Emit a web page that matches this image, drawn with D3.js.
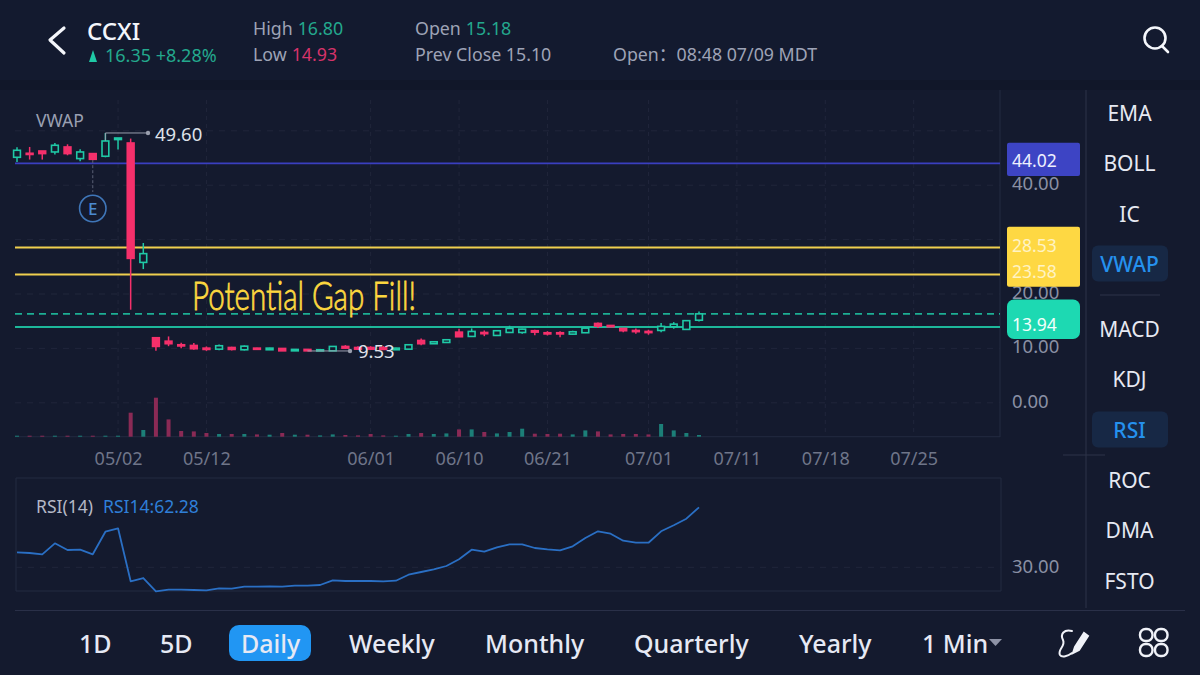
<!DOCTYPE html>
<html lang="en">
<head>
<meta charset="UTF-8">
<title>CCXI</title>
<script src="https://d3js.org/d3.v7.min.js"></script>
<style>
  html, body { margin: 0; padding: 0; background: #141a2e; overflow: hidden; }
  svg { display: block; font-family: "Noto Sans", "Open Sans", sans-serif; }
</style>
</head>
<body>
<svg id="chart" width="1200" height="675"></svg>
<script>
// daily candles (index = trading day slot)
var opens  = [45.13,45.87,46.29,46.11,47.03,44.89,45.81,45.32,48.39,47.76,25.81,11.96,11.33,10.67,10.54,10.05,9.86,10.17,9.75,10.05,9.75,9.99,9.55,9.81,9.55,9.55,10.36,10.17,10.17,10.17,9.75,9.86,11.46,10.86,11.09,12.99,12.20,12.93,12.38,12.93,12.93,13.25,12.88,12.88,12.62,12.88,14.59,14.22,13.67,13.30,13.12,13.30,13.98,13.49,15.18];
var highs  = [46.97,47.03,46.29,47.76,47.52,46.60,45.81,49.60,48.68,48.57,29.37,11.96,12.20,11.04,10.97,10.36,10.73,10.30,10.54,10.12,10.12,10.05,9.86,9.86,9.81,10.41,10.60,10.40,10.40,10.40,10.10,10.73,11.83,11.30,11.65,13.62,13.67,13.30,13.30,14.17,13.60,13.43,13.17,13.17,13.25,13.80,14.77,14.30,13.70,13.67,13.43,14.65,14.83,15.15,16.80];
var lows   = [44.27,44.71,44.71,45.63,45.50,44.40,44.60,45.13,46.55,17.11,24.58,9.55,10.41,10.05,9.75,9.55,9.68,9.62,9.62,9.81,9.70,9.54,9.54,9.53,9.54,9.54,9.94,9.75,9.75,9.70,9.70,9.81,10.60,10.80,11.00,12.10,12.15,12.25,12.33,12.88,12.70,12.44,12.38,12.07,12.55,12.82,13.73,13.90,12.99,12.70,12.51,12.99,13.62,13.45,14.93];
var closes = [46.42,45.70,45.81,47.34,45.81,46.11,44.76,48.13,48.68,26.55,27.42,10.36,10.86,10.49,9.94,9.81,10.49,9.81,10.41,9.86,10.05,9.55,9.81,9.55,9.75,10.36,10.05,9.86,9.86,9.81,10.05,10.67,10.86,11.22,11.59,12.14,13.12,12.70,13.25,13.67,13.54,12.99,12.70,12.70,13.06,13.73,14.09,13.98,13.25,13.12,12.93,14.04,14.46,15.10,16.35];
var volumes = [1,1,1,1,1,1,1,1,1,24,6.7,39,17.3,5.7,5.3,3.7,2.7,2.7,2.7,2.3,2,3.7,2,2,1.3,2.3,1.7,1.3,2.7,1.3,1,2.7,3.7,2.7,3.3,7.3,7.3,4.7,3.3,4.7,8,3,2.7,3,2.3,6.3,5.3,2.3,2.7,2.7,2.3,12.7,6.3,3.7,1.7];
var rsi = [38.07,37.69,36.99,42.91,39.31,39.47,36.99,49.15,50.98,22.47,24.24,17.09,17.95,17.95,17.79,17.63,18.70,18.49,19.56,19.56,19.78,19.56,20.10,20.10,20.48,23.01,22.63,22.63,22.63,22.47,22.79,26.02,27.47,28.92,30.70,34.30,39.47,38.39,40.76,42.37,42.37,40.38,39.68,39.15,41.30,45.76,49.37,48.08,44.31,43.23,43.23,49.37,52.60,56.15,62.28];

var dateSlots = [8,15,28,35,42,50,57,64,71];
var dateLabels = ["05/02","05/12","06/01","06/10","06/21","07/01","07/11","07/18","07/25"];
var priceGrid = [50,40,30,20,10,0];
var priceTicks = [40,20,10,0];
var rsiTicks = [30];
var sideNames = ["EMA","BOLL","IC","VWAP","MACD","KDJ","RSI","ROC","DMA","FSTO"];
var sideY = [113,163,214,264,329,379,430,480,530,581];
var sideActive = ["VWAP","RSI"];
var tabNames = ["1D","5D","Daily","Weekly","Monthly","Quarterly","Yearly","1 Min"];
var tabX = [79,160,241,349,485,634,799,922];

var GREEN = "#1fc9a6", RED = "#f5306b", YELLOW = "#efcf4e", LINE = "#232a40", GRID = "#20263b", GREY = "#8a90a4";

var svg = d3.select("#chart");

var x = d3.scaleLinear().domain([0, 54]).range([17, 699]);
var y = d3.scaleLinear().domain([0, 40]).range([402.8, 185.2]);
var yVol = d3.scaleLinear().domain([0, 40]).range([436.7, 396.7]);
var yRsi = d3.scaleLinear().domain([30, 62.28]).range([567.3, 507.3]);
var days = d3.range(closes.length);

// header band
svg.append("rect").attr("width", 1200).attr("height", 80).attr("fill", "#131a2f");
svg.append("rect").attr("y", 80).attr("width", 1200).attr("height", 10).attr("fill", "#111729");

// frame lines
function hline(x1, x2, yy, col) {
  svg.append("line").attr("x1", x1).attr("x2", x2).attr("y1", yy).attr("y2", yy)
    .attr("stroke", col || LINE).attr("stroke-width", 1);
}
function vline(xx, y1, y2, col) {
  svg.append("line").attr("x1", xx).attr("x2", xx).attr("y1", y1).attr("y2", y2)
    .attr("stroke", col || LINE).attr("stroke-width", 1);
}
vline(1000, 90, 437);
hline(15, 1000, 436.7);
hline(16, 1001, 478);
hline(16, 1001, 591);
vline(16, 478, 591);
vline(1001, 478, 591);
hline(15, 1185, 610.5, "#2a3048");
vline(1086, 90, 608, "#2c3249");
hline(1063, 1105, 455, "#2c3249");
hline(1100, 1160, 295, "#2c3249");

// grids
svg.append("g").selectAll("line").data(priceGrid).enter().append("line")
  .attr("x1", 15).attr("x2", 1000)
  .attr("y1", function(d){ return y(d); }).attr("y2", function(d){ return y(d); })
  .attr("stroke", GRID).attr("stroke-dasharray", "6 6");
svg.append("g").selectAll("line").data(dateSlots).enter().append("line")
  .attr("x1", function(d){ return x(d); }).attr("x2", function(d){ return x(d); })
  .attr("y1", 100).attr("y2", 436)
  .attr("stroke", GRID).attr("stroke-dasharray", "4 4");
svg.append("line").attr("x1", 16).attr("x2", 1001).attr("y1", yRsi(30)).attr("y2", yRsi(30))
  .attr("stroke", GRID).attr("stroke-dasharray", "6 6");

// volume
svg.append("g").selectAll("rect").data(days).enter().append("rect")
  .attr("x", function(i){ return x(i) - 2; })
  .attr("width", 4)
  .attr("y", function(i){ return yVol(volumes[i]); })
  .attr("height", function(i){ return yVol(0) - yVol(volumes[i]); })
  .attr("fill", function(i){ return closes[i] >= opens[i] ? "#1c7f78" : "#8a2a55"; });

// level lines
svg.append("line").attr("x1", 15).attr("x2", 1000).attr("y1", y(44.02)).attr("y2", y(44.02)).attr("stroke", "#3a3fc0").attr("stroke-width", 1.8);
[28.53, 23.58].forEach(function(v){
  svg.append("line").attr("x1", 15).attr("x2", 1000).attr("y1", y(v)).attr("y2", y(v)).attr("stroke", YELLOW).attr("stroke-width", 2);
});
svg.append("line").attr("x1", 15).attr("x2", 1000).attr("y1", y(16.35)).attr("y2", y(16.35)).attr("stroke", GREEN).attr("stroke-width", 1.6).attr("stroke-dasharray", "7 5").attr("opacity", 0.85);
svg.append("line").attr("x1", 15).attr("x2", 1000).attr("y1", y(13.94)).attr("y2", y(13.94)).attr("stroke", GREEN).attr("stroke-width", 2).attr("opacity", 0.9);

// candles
var candle = svg.append("g").selectAll("g").data(days).enter().append("g");
candle.append("line")
  .attr("x1", function(i){ return x(i); }).attr("x2", function(i){ return x(i); })
  .attr("y1", function(i){ return y(highs[i]); }).attr("y2", function(i){ return y(lows[i]); })
  .attr("stroke", function(i){ return closes[i] >= opens[i] ? GREEN : RED; })
  .attr("stroke-width", 1.5);
candle.append("rect")
  .attr("x", function(i){ return x(i) - 3.4; })
  .attr("width", 6.8)
  .attr("y", function(i){ return y(Math.max(opens[i], closes[i])); })
  .attr("height", function(i){ return Math.max(1.2, Math.abs(y(opens[i]) - y(closes[i]))); })
  .attr("fill", function(i){ return closes[i] >= opens[i] ? "#141a2e" : RED; })
  .attr("stroke", function(i){ return closes[i] >= opens[i] ? GREEN : RED; })
  .attr("stroke-width", 1.6);

// earnings marker
svg.append("line").attr("x1", x(6)).attr("x2", x(6)).attr("y1", y(44.6)).attr("y2", 192)
  .attr("stroke", "#5a6076").attr("stroke-dasharray", "3 2");
svg.append("circle").attr("cx", x(6)).attr("cy", 208.5).attr("r", 13.2)
  .attr("fill", "none").attr("stroke", "#3f76b8").attr("stroke-width", 1.6);
svg.append("text").attr("x", x(6)).attr("y", 214.5).attr("text-anchor", "middle")
  .attr("font-size", 17).attr("font-weight", 500).attr("fill", "#4a8ad0").text("E");

// high and low leaders
var LEAD = "#9a9fae";
svg.append("path").attr("fill", "none").attr("stroke", LEAD).attr("stroke-width", 1)
  .attr("d", d3.line()([[x(7), y(48.2)], [x(7), y(49.6)], [148, y(49.6)]]));
svg.append("circle").attr("cx", 148).attr("cy", y(49.6)).attr("r", 2.2).attr("fill", LEAD);
svg.append("text").attr("x", 155).attr("y", 141).attr("font-size", 18.5).attr("fill", "#dfe2ea").text("49.60");
svg.append("path").attr("fill", "none").attr("stroke", LEAD).attr("stroke-width", 1)
  .attr("d", d3.line()([[x(23), y(9.53)], [350, y(9.53)]]));
svg.append("circle").attr("cx", 350).attr("cy", y(9.53)).attr("r", 2.2).attr("fill", LEAD);
svg.append("text").attr("x", 358).attr("y", 358).attr("font-size", 18.5).attr("fill", "#dfe2ea").text("9.53");

// note written on the chart
svg.append("text").attr("x", 192).attr("y", 310)
  .attr("font-family", "Lato").attr("font-size", 40).attr("font-weight", 300)
  .attr("textLength", 224).attr("lengthAdjust", "spacingAndGlyphs")
  .attr("fill", "#fdd83f").attr("stroke", "#fdd83f").attr("stroke-width", 0.8)
  .text("Potential Gap Fill!");

// rsi line
svg.append("path").attr("fill", "none").attr("stroke", "#2a6fc4").attr("stroke-width", 1.8)
  .attr("stroke-linejoin", "round")
  .attr("d", d3.line().x(function(i){ return x(i); }).y(function(i){ return yRsi(rsi[i]); })(days));

// axes
var priceAxis = svg.append("g").attr("transform", "translate(1000,0)")
  .call(d3.axisRight(y).tickValues(priceTicks).tickFormat(d3.format(".2f")).tickSize(0).tickPadding(12));
var rsiAxis = svg.append("g").attr("transform", "translate(1000,0)")
  .call(d3.axisRight(yRsi).tickValues(rsiTicks).tickFormat(d3.format(".2f")).tickSize(0).tickPadding(12));
var dateAxis = svg.append("g").attr("transform", "translate(0,446)")
  .call(d3.axisBottom(x).tickValues(dateSlots).tickFormat(function(d){ return dateLabels[dateSlots.indexOf(d)]; }).tickSize(0).tickPadding(6));
[priceAxis, rsiAxis, dateAxis].forEach(function(a){
  a.select(".domain").remove();
  a.selectAll("text").attr("font-family", "Noto Sans").attr("font-size", 18.5).attr("fill", GREY);
});
priceAxis.selectAll("text").attr("dy", "0.24em");
rsiAxis.selectAll("text").attr("dy", "0.26em");
dateAxis.selectAll("text").attr("font-size", 18).attr("fill", "#6f7589");

// price tags on the right
svg.append("rect").attr("x", 1007).attr("y", 142.7).attr("width", 73).attr("height", 33.3).attr("rx", 2).attr("fill", "#3d44c4");
svg.append("rect").attr("x", 1007).attr("y", 226.7).attr("width", 73).attr("height", 60).attr("rx", 2).attr("fill", "#fed843");
svg.append("rect").attr("x", 1007).attr("y", 299.5).attr("width", 73).attr("height", 39.5).attr("rx", 7).attr("fill", "#1dd9b2");
var tags = [[44.02, "#eef0ff", 161], [28.53, "#fff3c4", 245.5], [23.58, "#fff3c4", 272], [13.94, "#f2fffb", 325]];
svg.selectAll("text.tag").data(tags).enter().append("text").attr("class", "tag")
  .attr("x", 1012).attr("y", function(d){ return d[2]; }).attr("dy", "0.35em")
  .attr("font-size", 17.5).attr("fill", function(d){ return d[1]; })
  .text(function(d){ return d3.format(".2f")(d[0]); });

// panel captions
svg.append("text").attr("x", 36).attr("y", 127).attr("font-size", 17.5).attr("fill", "#9aa0b2").text("VWAP");
svg.append("text").attr("x", 36).attr("y", 513).attr("font-size", 17.5).attr("fill", "#b4b8c6").text("RSI(14)");
svg.append("text").attr("x", 103).attr("y", 513).attr("font-size", 17.5).attr("fill", "#2f7fd8").text("RSI14:62.28");

// indicator sidebar
sideActive.forEach(function(n){
  var cy = sideY[sideNames.indexOf(n)];
  svg.append("rect").attr("x", 1092).attr("y", cy - 18.5).attr("width", 76).attr("height", 36).attr("rx", 6).attr("fill", "#172845");
});
svg.selectAll("text.side").data(sideNames).enter().append("text").attr("class", "side")
  .attr("x", 1129.5).attr("y", function(d, i){ return sideY[i]; }).attr("dy", "0.4em")
  .attr("text-anchor", "middle").attr("font-size", 21)
  .attr("font-weight", function(d){ return sideActive.indexOf(d) >= 0 ? 500 : 400; })
  .attr("fill", function(d){ return sideActive.indexOf(d) >= 0 ? "#2591ee" : "#e6e9f2"; })
  .text(function(d){ return d; });

// period tabs
svg.append("rect").attr("x", 229).attr("y", 625).attr("width", 82).attr("height", 36).attr("rx", 10).attr("fill", "#2196f3");
svg.selectAll("text.tab").data(tabNames).enter().append("text").attr("class", "tab")
  .attr("x", function(d, i){ return tabX[i]; }).attr("y", 653)
  .attr("font-size", 25).attr("font-weight", 500).attr("fill", "#e6e9f4")
  .text(function(d){ return d; });
svg.append("path").attr("d", "M989,639 h13 l-6.5,7 z").attr("fill", "#8e93a6");

// draw tool and grid icons
svg.append("g").attr("fill", "none").attr("stroke", "#f0f2f8").attr("stroke-width", 2).attr("stroke-linecap", "round")
  .call(function(g){
    g.append("path").attr("d", "M1072,631 C1064,629 1060,634 1063,640 C1066,646 1057,650 1060,655 C1062,658 1068,656 1072,653");
    g.append("path").attr("d", "M1073,653 L1075,647 L1084,633 L1088,636 L1079,650 Z").attr("fill", "#f0f2f8");
  });
svg.append("g").attr("fill", "none").attr("stroke", "#f0f2f8").attr("stroke-width", 2.4)
  .selectAll("rect").data([[1140,629],[1155,629],[1140,644],[1155,644]]).enter().append("rect")
  .attr("x", function(d){ return d[0]; }).attr("y", function(d){ return d[1]; })
  .attr("width", 12.5).attr("height", 12).attr("rx", 5.5);

// header
svg.append("path").attr("d", "M64,28 L50,40 L64,53").attr("fill", "none").attr("stroke", "#f4f6fb").attr("stroke-width", 3.2).attr("stroke-linecap", "round").attr("stroke-linejoin", "round");
svg.append("text").attr("x", 87).attr("y", 40).attr("font-size", 24).attr("font-weight", 500).attr("fill", "#f4f6fb").text("CCXI");
svg.append("path").attr("d", "M93,50 L97,62 H89 Z").attr("fill", GREEN);
svg.append("text").attr("x", 105).attr("y", 62).attr("font-size", 18).attr("fill", "#23a88d").text("16.35 +8.28%");

function pair(px, py, label, value, col) {
  var t = svg.append("text").attr("x", px).attr("y", py).attr("font-size", 17.8).attr("fill", "#9ea3b6");
  t.append("tspan").text(label);
  if (value) t.append("tspan").attr("dx", 5).attr("fill", col).text(value);
}
pair(253, 35, "High", "16.80", "#23a88d");
pair(253, 61, "Low", "14.93", "#d6336a");
pair(415, 35, "Open", "15.18", "#23a88d");
pair(415, 61, "Prev Close 15.10");
svg.append("text").attr("x", 613).attr("y", 61).attr("font-size", 17.8).attr("fill", "#9ea3b6")
  .attr("font-family", "Noto Sans, Noto Sans CJK SC").text("Open：08:48 07/09 MDT");

svg.append("circle").attr("cx", 1155).attr("cy", 38).attr("r", 10.5).attr("fill", "none").attr("stroke", "#f4f6fb").attr("stroke-width", 2.6);
svg.append("line").attr("x1", 1162).attr("y1", 46).attr("x2", 1168).attr("y2", 52).attr("stroke", "#f4f6fb").attr("stroke-width", 2.6).attr("stroke-linecap", "round");
</script>
</body>
</html>
